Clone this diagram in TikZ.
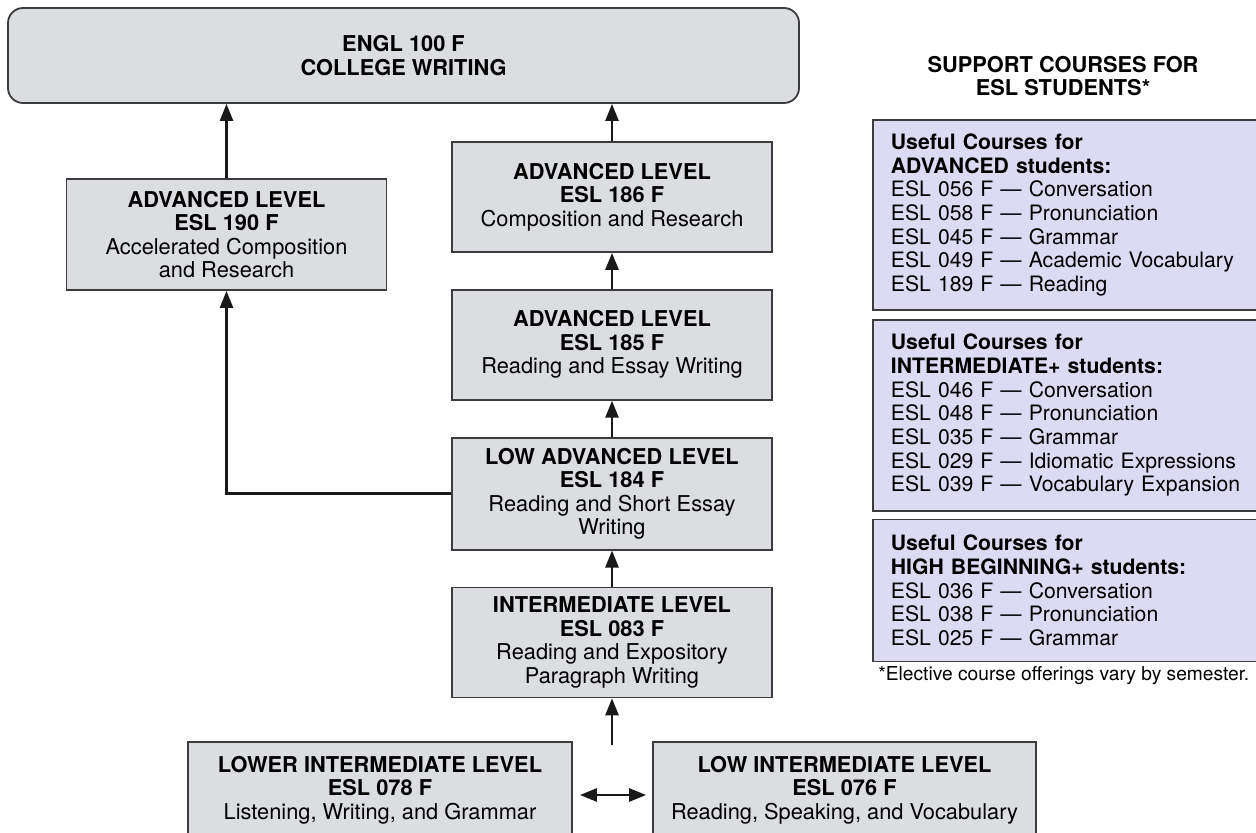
\documentclass[tikz,border=0pt]{standalone}
\usepackage{fontspec}
\setmainfont{TeX Gyre Heros}
\usepackage{xcolor}
\usepackage{tikz}
\usetikzlibrary{arrows.meta,positioning}

\definecolor{boxgray}{RGB}{220,221,224}
\definecolor{panelblue}{RGB}{221,219,243}
\definecolor{edgegray}{RGB}{60,60,62}

\begin{document}
\begin{tikzpicture}[
    x=0.5pt, y=-0.5pt,
    node distance=18pt,
    every node/.style={font=\fontsize{10.9pt}{11.75pt}\selectfont},
    lvl/.style={draw=edgegray, line width=0.9pt, fill=boxgray, minimum width=160pt, minimum height=55pt, align=center, inner sep=2pt},
    goal/.style={lvl, rounded corners=7.5pt, minimum width=395.5pt, minimum height=47.5pt},
    panel/.style={draw=edgegray, line width=0.9pt, fill=panelblue, text width=177pt, inner xsep=9pt, align=left, font=\fontsize{10.6pt}{11.85pt}\selectfont},
    arrow/.style={-{Triangle[length=8.5pt,width=6.5pt]}, line width=1.3pt, black!90}
]
\useasboundingbox (0,0) rectangle (1256,833);
\clip (0,0) rectangle (1256,833);

\node[goal] (engl) at (403.5,55.5) {\textbf{ENGL 100 F}\\\textbf{COLLEGE WRITING}};

\node[lvl] (esl186) at (612,197) {\textbf{ADVANCED LEVEL}\\\textbf{ESL 186 F}\\Composition and Research};
\node[lvl, below=of esl186] (esl185) {\textbf{ADVANCED LEVEL}\\\textbf{ESL 185 F}\\Reading and Essay Writing};
\node[lvl, below=of esl185, minimum height=56pt] (esl184) {\textbf{LOW ADVANCED LEVEL}\\\textbf{ESL 184 F}\\Reading and Short Essay\\Writing};
\node[lvl, below=of esl184] (esl083) {\textbf{INTERMEDIATE LEVEL}\\\textbf{ESL 083 F}\\Reading and Expository\\Paragraph Writing};
\node[lvl, minimum height=55.5pt] (esl190) at (226.5,234.5) {\textbf{ADVANCED LEVEL}\\\textbf{ESL 190 F}\\Accelerated Composition\\and Research};

\node[lvl, minimum width=192pt, minimum height=48pt] (esl078) at (380,790) {\textbf{LOWER INTERMEDIATE LEVEL}\\\textbf{ESL 078 F}\\Listening, Writing, and Grammar};
\node[lvl, minimum width=191.5pt, minimum height=48pt] (esl076) at (844.5,790) {\textbf{LOW INTERMEDIATE LEVEL}\\\textbf{ESL 076 F}\\Reading, Speaking, and Vocabulary};
\coordinate (entry) at (612,745);

% support courses
\node[align=center] (support) at (1063,76) {\textbf{SUPPORT COURSES FOR}\\\textbf{ESL STUDENTS*}};
\node[panel, minimum height=95pt, anchor=north west] (padv) at (872,119) {\textbf{Useful Courses for}\\\textbf{ADVANCED students:}\\ESL 056 F — Conversation\\ESL 058 F — Pronunciation\\ESL 045 F — Grammar\\ESL 049 F — Academic Vocabulary\\ESL 189 F — Reading};
\node[panel, minimum height=95.5pt, below=4pt of padv.south west, anchor=north west] (pint) {\textbf{Useful Courses for}\\\textbf{INTERMEDIATE+ students:}\\ESL 046 F — Conversation\\ESL 048 F — Pronunciation\\ESL 035 F — Grammar\\ESL 029 F — Idiomatic Expressions\\ESL 039 F — Vocabulary Expansion};
\node[panel, minimum height=71pt, below=3.5pt of pint.south west, anchor=north west] (phb) {\textbf{Useful Courses for}\\\textbf{HIGH BEGINNING+ students:}\\ESL 036 F — Conversation\\ESL 038 F — Pronunciation\\ESL 025 F — Grammar};
\node[anchor=base west, inner sep=0pt, font=\fontsize{9.6pt}{11pt}\selectfont] (note) at (878,680) {*Elective course offerings vary by semester.};

\draw[arrow] (esl186) -- (esl186 |- engl.south);
\draw[arrow] (esl190) -- (esl190 |- engl.south);
\draw[arrow] (esl185) -- (esl186);
\draw[arrow] (esl184) -- (esl185);
\draw[arrow] (esl083) -- (esl184);
\draw[arrow] (entry) -- (esl083);
\draw[arrow] (esl184.west) -| (esl190.south);
\draw[arrow, {Triangle[length=8.5pt,width=6.5pt]}-{Triangle[length=8.5pt,width=6.5pt]}, shorten <=3.5pt, shorten >=3pt] ([yshift=-2.5pt]esl078.east) -- ([yshift=-2.5pt]esl076.west);
\end{tikzpicture}
\end{document}
